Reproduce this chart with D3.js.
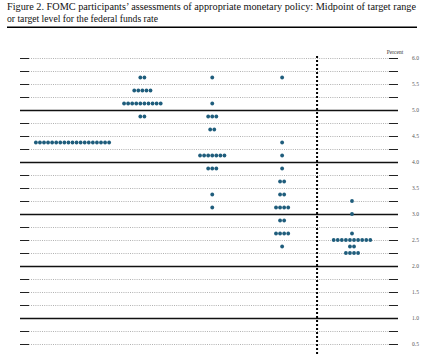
<!DOCTYPE html>
<html>
<head>
<meta charset="utf-8">
<script src="https://cdn.jsdelivr.net/npm/d3@7"></script>
<style>
  html, body { margin: 0; padding: 0; background: #fff; overflow: hidden; }
  svg { display: block; }
</style>
</head>
<body>
<div id="chart"></div>
<script>
// ---- data ----
const titleLines = [
  "Figure 2.  FOMC participants\u2019 assessments of appropriate monetary policy:  Midpoint of target range",
  "or target level for the federal funds rate"
];
const periods = ["2022", "2023", "2024", "2025", "Longer run"];
// each period: [rate midpoint, number of participants]
const dots2022 = [[4.375, 19]];
const dots2023 = [[5.625, 2], [5.375, 5], [5.125, 10], [4.875, 2]];
const dots2024 = [[5.625, 1], [5.125, 1], [4.875, 3], [4.625, 2], [4.125, 7], [3.875, 3], [3.375, 1], [3.125, 1]];
const dots2025 = [[5.625, 1], [4.375, 1], [4.125, 1], [3.875, 1], [3.625, 2], [3.375, 2], [3.125, 4], [2.875, 2], [2.625, 4], [2.375, 1]];
const dotsLongerRun = [[3.25, 1], [3.0, 1], [2.625, 1], [2.5, 10], [2.375, 2], [2.25, 4]];
const seriesByPeriod = [dots2022, dots2023, dots2024, dots2025, dotsLongerRun];
const gridValues = d3.range(0, 6.001, 0.25);
const tickLabels = ["0.5", "1.0", "1.5", "2.0", "2.5", "3.0", "3.5", "4.0", "4.5", "5.0", "5.5", "6.0"];

// ---- layout ----
const W = 424, H = 355;
const svg = d3.select("#chart").append("svg").attr("width", W).attr("height", H);

const y = d3.scaleLinear().domain([0, 6]).range([370, 58]);
const x = d3.scalePoint().domain(periods).range([72.5, 352]);
const left = 20, right = 398;
const dotStep = 4.07, dotR = 1.9;
const dotColor = "#1f5d7c";

// title
const title = svg.append("g").attr("font-family", "'Liberation Serif', 'DejaVu Serif', serif")
  .attr("fill", "#111").attr("font-size", 9.3);
title.append("text").attr("x", 7).attr("y", 9.5).attr("textLength", 409)
  .attr("lengthAdjust", "spacingAndGlyphs").text(titleLines[0]);
title.append("text").attr("x", 7).attr("y", 21.5).attr("textLength", 151)
  .attr("lengthAdjust", "spacingAndGlyphs").text(titleLines[1]);
svg.append("line").attr("x1", 7).attr("x2", 417).attr("y1", 27.3).attr("y2", 27.3)
  .attr("stroke", "#000").attr("stroke-width", 1.6);

// "Percent"
svg.append("text").attr("x", 395).attr("y", 54).attr("text-anchor", "middle")
  .attr("font-family", "'Liberation Serif', serif").attr("font-size", 5.5).attr("fill", "#333")
  .text("Percent");

// gridlines
const grid = svg.append("g");
gridValues.forEach(v => {
  const yy = Math.round(y(v)) + 0.5;
  const isInt = Math.abs(v - Math.round(v)) < 1e-9 && v > 0 && v < 6;
  if (isInt) {
    grid.append("line").attr("x1", left).attr("x2", right).attr("y1", yy).attr("y2", yy)
      .attr("stroke", "#111").attr("stroke-width", 1.3);
  } else {
    grid.append("line").attr("x1", left).attr("x2", right).attr("y1", yy).attr("y2", yy)
      .attr("stroke", "#a8a8a8").attr("stroke-width", 0.9).attr("stroke-dasharray", "1,1.2");
    grid.append("line").attr("x1", left).attr("x2", left + 9).attr("y1", yy).attr("y2", yy)
      .attr("stroke", "#222").attr("stroke-width", 1);
    grid.append("line").attr("x1", right - 9).attr("x2", right).attr("y1", yy).attr("y2", yy)
      .attr("stroke", "#222").attr("stroke-width", 1);
  }
});

// right axis labels
const axis = d3.axisRight(y).tickValues(tickLabels.map(Number)).tickSize(0).tickPadding(0)
  .tickFormat(d3.format(".1f"));
const ag = svg.append("g").attr("transform", `translate(${412},0)`).call(axis);
ag.select(".domain").remove();
ag.selectAll("text").attr("font-family", "'Liberation Serif', serif").attr("font-size", 5.5)
  .attr("fill", "#555").attr("dy", "0.32em");

// vertical dashed separator
const sepX = (x("2025") + x("Longer run")) / 2;
svg.append("line").attr("x1", sepX).attr("x2", sepX).attr("y1", 56).attr("y2", H + 5)
  .attr("stroke", "#000").attr("stroke-width", 2).attr("stroke-dasharray", "2,2");

// dots
const dotData = [];
periods.forEach((p, i) => {
  seriesByPeriod[i].forEach(([rate, n]) => {
    for (let k = 0; k < n; k++) {
      dotData.push({ period: p, rate: rate, offset: (k - (n - 1) / 2) * dotStep });
    }
  });
});
svg.append("g").selectAll("circle").data(dotData).join("circle")
  .attr("cx", d => x(d.period) + d.offset)
  .attr("cy", d => y(d.rate))
  .attr("r", dotR)
  .attr("fill", dotColor);
</script>
</body>
</html>
